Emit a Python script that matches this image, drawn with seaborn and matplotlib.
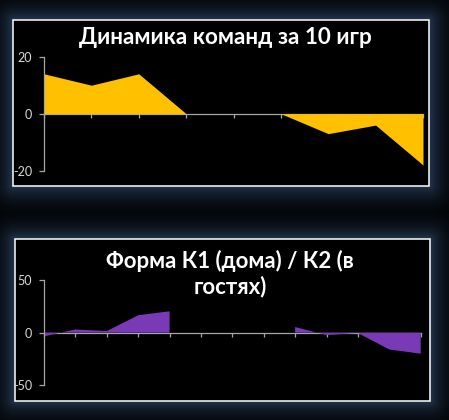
import numpy as np
import pandas as pd
import matplotlib
matplotlib.use("Agg")
import matplotlib.pyplot as plt
import seaborn as sns
from matplotlib.patches import Rectangle

# ---- data ----
top_title = "Динамика команд за 10 игр"
top_values = [14, 10, 14, 0, 0, 0, -7, -4, -18]
top_yticks = [-20, 0, 20]

bottom_title = "Форма К1 (дома) / К2 (в\nгостях)"
bottom_values = [-3.5, 3, 1.5, 16.5, 20.3, np.nan, np.nan, np.nan, 5.3, -2.3, -0.3, -16, -20]
bottom_yticks = [-50, 0, 50]

sns.set_theme(style="dark")
plt.rcParams['font.family'] = ['Lato', 'DejaVu Sans']

W, H = 449, 420
fig = plt.figure(figsize=(W / 100, H / 100), dpi=100)
fig.patch.set_facecolor("black")

# panel rectangles in pixel coords (x0, y0, x1, y1), y from top
panels = [(13.3, 20, 429.3, 186), (14.7, 239.3, 430, 400.7)]

# glow background
yy, xx = np.mgrid[0:H, 0:W] + 0.5
inten = np.zeros((H, W))
for (x0, y0, x1, y1) in panels:
    dx = np.maximum(np.maximum(x0 - xx, xx - x1), 0)
    dy = np.maximum(np.maximum(y0 - yy, yy - y1), 0)
    d = np.hypot(dx, dy)
    inten = np.maximum(inten, np.exp(-d / 13.0))
glow = np.array([0x22, 0x36, 0x50]) / 255.0
img = inten[..., None] * glow[None, None, :]
bg = fig.add_axes([0, 0, 1, 1], zorder=-10)
bg.imshow(img, aspect="auto", interpolation="bilinear")
bg.set_axis_off()

for (x0, y0, x1, y1) in panels:
    fig.patches.append(Rectangle((x0 / W, 1 - y1 / H), (x1 - x0) / W, (y1 - y0) / H,
                                 transform=fig.transFigure, facecolor="black",
                                 edgecolor="white", lw=1.1, zorder=-5))

def make_axes(rect_px, values, yticks, color):
    x0, ytop, x1, ybot = rect_px
    ax = fig.add_axes([x0 / W, 1 - ybot / H, (x1 - x0) / W, (ybot - ytop) / H], zorder=1)
    ax.set_facecolor("none")
    df = pd.DataFrame({"x": np.arange(len(values)), "y": values})
    sns.lineplot(data=df, x="x", y="y", ax=ax, color=color, lw=0)
    ax.fill_between(df["x"], df["y"], 0, color=color, lw=0)
    ax.set_xlim(0, len(values) - 1)
    ax.set_ylim(yticks[0], yticks[-1])
    ax.set_yticks(yticks)
    ax.set_yticklabels([str(t) for t in yticks])
    ax.set_xticks(np.arange(len(values)))
    ax.set_xticklabels([])
    ax.set_xlabel("")
    ax.set_ylabel("")
    ax.grid(False)
    for s in ["top", "right"]:
        ax.spines[s].set_visible(False)
    ax.spines["left"].set_color("#a6a6a6")
    ax.spines["left"].set_linewidth(0.9)
    ax.spines["bottom"].set_position(("data", 0))
    ax.spines["bottom"].set_color("#a6a6a6")
    ax.spines["bottom"].set_linewidth(0.9)
    ax.spines["bottom"].set_zorder(0.5)
    ax.tick_params(axis="y", direction="out", length=3.5, width=0.9, color="#a6a6a6",
                   labelcolor="#d9d9d9", labelsize=9, pad=5, left=True)
    ax.tick_params(axis="x", direction="out", length=3, width=0.9, color="#a6a6a6",
                   bottom=True)
    return ax

ax1 = make_axes((44, 56.7, 423, 170.7), top_values, top_yticks, "#FFC000")
ax2 = make_axes((44, 280, 420.7, 385.3), bottom_values, bottom_yticks, "#7A3AB8")

fig.text(225 / W, 1 - 38 / H, top_title, ha="center", va="center", color="white",
         fontsize=16.2, fontweight="bold")
fig.text(230 / W, 1 - 274 / H, bottom_title, ha="center", va="center", color="white",
         fontsize=16, fontweight="bold", linespacing=1.2, multialignment="center")

fig.savefig("out.png", dpi=100, facecolor="black")
